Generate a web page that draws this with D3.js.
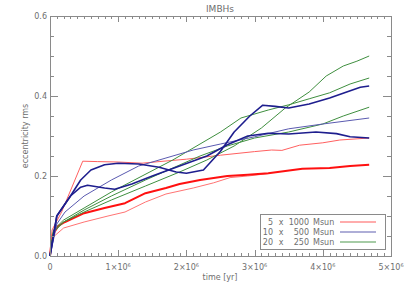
<!DOCTYPE html>
<html>
<head>
<meta charset="utf-8">
<script src="https://cdn.jsdelivr.net/npm/d3@7"></script>
<style>
  body { margin: 0; background: #fff; }
  text { font-family: "DejaVu Sans", sans-serif; fill: #6e6e6e; }
</style>
</head>
<body>
<script>
// time in units of 1e6 yr, eccentricity rms

// 5 x 1000 Msun
var redJumpT = [0, 0.03, 0.17, 0.48, 0.7, 1.0, 1.35, 1.6, 2.0, 2.5, 3.0, 3.25, 3.4, 3.66, 4.0, 4.25, 4.68];
var redJumpV = [0, 0.065, 0.11, 0.237, 0.236, 0.235, 0.232, 0.236, 0.242, 0.252, 0.261, 0.265, 0.264, 0.277, 0.283, 0.29, 0.295];
var redThickT = [0, 0.03, 0.12, 0.22, 0.5, 0.8, 1.1, 1.4, 1.7, 1.9, 2.2, 2.6, 2.9, 3.2, 3.7, 4.1, 4.4, 4.68];
var redThickV = [0, 0.05, 0.075, 0.085, 0.107, 0.12, 0.132, 0.157, 0.17, 0.18, 0.19, 0.2, 0.203, 0.207, 0.218, 0.22, 0.225, 0.228];
var redLowT = [0, 0.03, 0.2, 0.5, 0.85, 1.1, 1.4, 1.7, 2.1, 2.4, 2.64, 2.9, 3.2];
var redLowV = [0, 0.045, 0.07, 0.085, 0.1, 0.11, 0.135, 0.155, 0.17, 0.183, 0.196, 0.2, 0.206];

// 10 x 500 Msun
var blueDipT = [0, 0.1, 0.3, 0.45, 0.6, 0.8, 1.0, 1.3, 1.6, 1.85, 2.0, 2.25, 2.5, 2.7, 2.93, 3.12, 3.3, 3.5, 3.8, 4.1, 4.35, 4.55, 4.68];
var blueDipV = [0, 0.1, 0.15, 0.19, 0.215, 0.228, 0.232, 0.23, 0.222, 0.21, 0.207, 0.215, 0.262, 0.31, 0.35, 0.377, 0.374, 0.37, 0.38, 0.395, 0.41, 0.422, 0.425];
var bluePlatT = [0, 0.1, 0.3, 0.45, 0.55, 0.8, 0.95, 1.2, 1.5, 1.9, 2.3, 2.6, 2.9, 3.2, 3.5, 3.9, 4.2, 4.4, 4.68];
var bluePlatV = [0, 0.1, 0.15, 0.172, 0.177, 0.17, 0.167, 0.18, 0.2, 0.225, 0.25, 0.278, 0.3, 0.307, 0.305, 0.31, 0.306, 0.298, 0.295];
var blueThinT = [0, 0.1, 0.22, 0.5, 0.9, 1.3, 1.7, 2.1, 2.5, 3.0, 3.5, 4.0, 4.68];
var blueThinV = [0, 0.08, 0.11, 0.15, 0.19, 0.225, 0.245, 0.265, 0.28, 0.298, 0.318, 0.33, 0.345];

// 20 x 250 Msun
var greenSteepT = [0, 0.05, 0.2, 0.5, 0.9, 1.4, 1.9, 2.3, 2.7, 3.1, 3.45, 3.8, 4.05, 4.3, 4.5, 4.68];
var greenSteepV = [0, 0.06, 0.085, 0.11, 0.14, 0.175, 0.21, 0.24, 0.275, 0.32, 0.37, 0.41, 0.45, 0.475, 0.487, 0.5];
var greenUpT = [0, 0.05, 0.2, 0.5, 0.9, 1.35, 1.8, 2.2, 2.5, 2.8, 3.2, 3.5, 3.8, 4.1, 4.4, 4.68];
var greenUpV = [0, 0.065, 0.09, 0.12, 0.16, 0.2, 0.24, 0.28, 0.31, 0.345, 0.365, 0.378, 0.393, 0.408, 0.43, 0.445];
var greenLowT = [0, 0.05, 0.2, 0.5, 0.9, 1.4, 1.8, 2.2, 2.6, 3.0, 3.5, 4.0, 4.3, 4.68];
var greenLowV = [0, 0.06, 0.085, 0.115, 0.15, 0.19, 0.22, 0.25, 0.275, 0.295, 0.31, 0.33, 0.35, 0.372];

var legendCounts = ["5", "10", "20"];
var legendMasses = ["1000", "500", "250"];
var legendColors = ["#ff5a5a", "#5f5fb0", "#4f9a4f"];

var xMajor = [0, 1, 2, 3, 4, 5];
var yMajor = [0, 0.2, 0.4, 0.6];

var series = [
  { t: redLowT, v: redLowV, color: "#ff7373", w: 1 },
  { t: redThickT, v: redThickV, color: "#ff1010", w: 2 },
  { t: redJumpT, v: redJumpV, color: "#ff6060", w: 1 },
  { t: greenLowT, v: greenLowV, color: "#3f8f3f", w: 1 },
  { t: greenUpT, v: greenUpV, color: "#3f8f3f", w: 1 },
  { t: greenSteepT, v: greenSteepV, color: "#3f8f3f", w: 1 },
  { t: blueThinT, v: blueThinV, color: "#5a5ab0", w: 1 },
  { t: bluePlatT, v: bluePlatV, color: "#1e1e8e", w: 1.6 },
  { t: blueDipT, v: blueDipV, color: "#1e1e8e", w: 1.6 }
];

var width = 407, height = 291;
var m = { left: 50, right: 391, top: 16, bottom: 256 };

var x = d3.scaleLinear().domain([0, 5]).range([m.left, m.right]);
var y = d3.scaleLinear().domain([0, 0.6]).range([m.bottom, m.top]);

var svg = d3.select("body").append("svg")
  .attr("width", width)
  .attr("height", height);

var line = d3.line()
  .x(function(d) { return x(d[0]); })
  .y(function(d) { return y(d[1]); });

svg.append("g").selectAll("path")
  .data(series)
  .enter().append("path")
  .attr("d", function(s) { return line(d3.zip(s.t, s.v)); })
  .attr("fill", "none")
  .attr("stroke", function(s) { return s.color; })
  .attr("stroke-width", function(s) { return s.w; })
  .attr("stroke-linejoin", "round");

// frame and ticks (all four sides, IDL style, ticks pointing in)
var axisColor = "#8a8a8a";
svg.append("rect")
  .attr("x", m.left + 0.5).attr("y", m.top + 0.5)
  .attr("width", m.right - m.left).attr("height", m.bottom - m.top)
  .attr("fill", "none").attr("stroke", axisColor).attr("stroke-width", 1);

var xMinor = d3.range(0, 5.0001, 0.1);
var yMinor = d3.range(0, 0.6001, 0.05);
var ticks = svg.append("g").attr("stroke", axisColor).attr("stroke-width", 1);

xMinor.forEach(function(t, i) {
  var len = (i % 10 === 0) ? 6 : 3;
  var px = Math.round(x(t)) + 0.5;
  ticks.append("line").attr("x1", px).attr("x2", px).attr("y1", m.bottom).attr("y2", m.bottom - len);
  ticks.append("line").attr("x1", px).attr("x2", px).attr("y1", m.top).attr("y2", m.top + len);
});
yMinor.forEach(function(v, i) {
  var len = (i % 4 === 0) ? 8 : 4;
  var py = Math.round(y(v)) + 0.5;
  ticks.append("line").attr("x1", m.left).attr("x2", m.left + len).attr("y1", py).attr("y2", py);
  ticks.append("line").attr("x1", m.right).attr("x2", m.right - len).attr("y1", py).attr("y2", py);
});

// tick labels
svg.append("g").selectAll("text")
  .data(yMajor)
  .enter().append("text")
  .attr("x", m.left - 3)
  .attr("y", function(d) { return y(d) + 3; })
  .attr("text-anchor", "end")
  .attr("font-size", 8)
  .text(function(d) { return d.toFixed(1); });

var xl = svg.append("g").selectAll("text")
  .data(xMajor)
  .enter().append("text")
  .attr("x", function(d) { return x(d); })
  .attr("y", 270)
  .attr("text-anchor", "middle")
  .attr("font-size", 8);
xl.each(function(d) {
  var t = d3.select(this);
  if (d === 0) { t.text("0"); return; }
  t.append("tspan").text(d + "\u00d710");
  t.append("tspan").attr("dy", -3).attr("font-size", 5).text("6");
});

// titles
svg.append("text").attr("x", 220).attr("y", 12).attr("text-anchor", "middle")
  .attr("font-size", 9).text("IMBHs");
svg.append("text").attr("x", 220).attr("y", 280).attr("text-anchor", "middle")
  .attr("font-size", 8).text("time [yr]");
svg.append("text")
  .attr("transform", "translate(28," + ((m.top + m.bottom) / 2) + ") rotate(-90)")
  .attr("text-anchor", "middle")
  .attr("font-size", 8).text("eccentricity rms");

// legend
var lg = svg.append("g");
lg.append("rect").attr("x", 260.5).attr("y", 214.5).attr("width", 125).attr("height", 35)
  .attr("fill", "#fff").attr("stroke", axisColor);
legendCounts.forEach(function(c, i) {
  var yy = 225 + i * 10;
  lg.append("text").attr("x", 273).attr("y", yy).attr("text-anchor", "end").attr("font-size", 8).text(c);
  lg.append("text").attr("x", 281).attr("y", yy).attr("text-anchor", "middle").attr("font-size", 8).text("x");
  lg.append("text").attr("x", 309).attr("y", yy).attr("text-anchor", "end").attr("font-size", 8).text(legendMasses[i]);
  lg.append("text").attr("x", 313).attr("y", yy).attr("font-size", 8).text("Msun");
  lg.append("line").attr("x1", 340).attr("x2", 376).attr("y1", yy - 3).attr("y2", yy - 3)
    .attr("stroke", legendColors[i]).attr("stroke-width", 1.2);
});
</script>
</body>
</html>
